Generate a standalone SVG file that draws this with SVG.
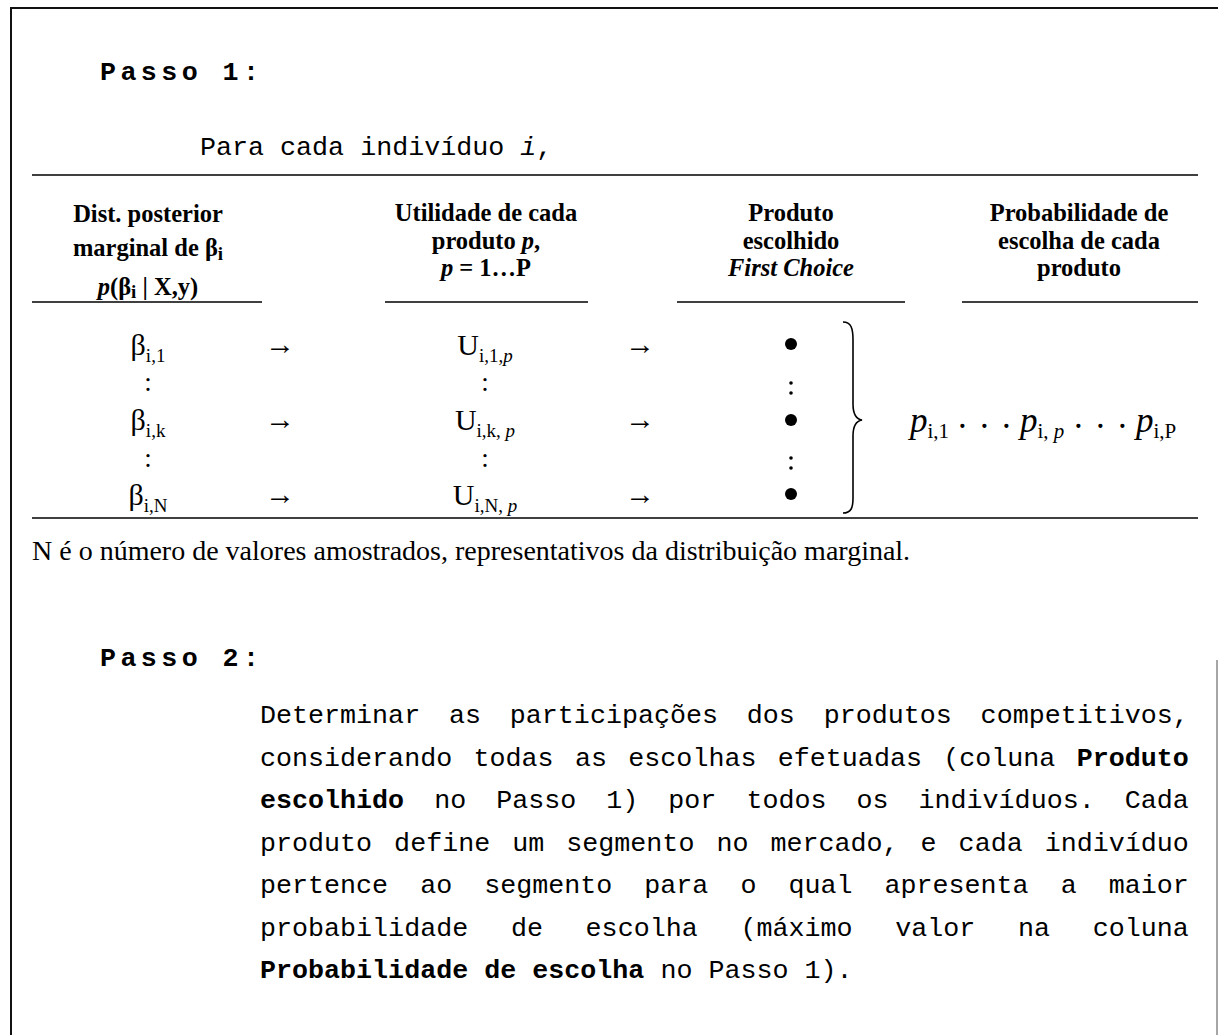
<svg xmlns="http://www.w3.org/2000/svg" width="1218" height="1035" viewBox="0 0 1218 1035">
<style>
.mono{font-family:"Liberation Mono","Courier New",monospace;font-size:26.7px;fill:#000}
.monob{font-family:"Liberation Mono","Courier New",monospace;font-size:26.7px;font-weight:bold;fill:#000}
.hd{font-family:"Liberation Serif","Times New Roman",serif;font-size:24.5px;font-weight:bold;fill:#000;text-anchor:middle}
.cell{font-family:"Liberation Serif","Times New Roman",serif;font-size:30px;fill:#000;text-anchor:middle}
.colon{font-family:"Liberation Serif","Times New Roman",serif;font-size:27px;fill:#000;text-anchor:middle}
.ser{font-family:"Liberation Serif","Times New Roman",serif;fill:#000}
.pv{font-family:"Liberation Serif","Times New Roman",serif;font-size:35px;fill:#000}
.sub{font-size:19px}
.psub{font-size:21px}
.it{font-style:italic}
.rule{stroke:#000;stroke-width:1.6;fill:none}
.frame{stroke:#111;stroke-width:2;fill:none}
</style>
<rect x="0" y="0" width="1218" height="1035" fill="#fff"/>
<g id="frame">
<path class="frame" d="M11,1035 V8 H1218"/>
<line x1="1217" y1="660" x2="1217" y2="1035" stroke="#888" stroke-width="1.5"/>
</g>
<g id="passo1">
<text class="monob" x="100" y="80" letter-spacing="4.4">Passo 1:</text>
<text class="mono" x="200" y="155">Para cada indivíduo <tspan class="it">i</tspan>,</text>
</g>
<g id="table-rules">
<line class="rule" x1="32" y1="175" x2="1198" y2="175"/>
<line class="rule" x1="32" y1="302" x2="262" y2="302"/>
<line class="rule" x1="385" y1="302" x2="588" y2="302"/>
<line class="rule" x1="677" y1="302" x2="905" y2="302"/>
<line class="rule" x1="962" y1="302" x2="1198" y2="302"/>
<line class="rule" x1="32" y1="518" x2="1198" y2="518"/>
</g>
<g id="hdr-col1">
<text class="hd" x="148" y="222">Dist. posterior</text>
<text class="hd" x="148" y="256">marginal de β<tspan class="sub" dy="4">i</tspan></text>
<text class="hd" x="148" y="295"><tspan class="it">p</tspan>(β<tspan class="sub" dy="3">i</tspan><tspan dy="-3"> | X,y)</tspan></text>
</g>
<g id="hdr-col2">
<text class="hd" x="486" y="221">Utilidade de cada</text>
<text class="hd" x="486" y="248.5">produto <tspan class="it">p</tspan>,</text>
<text class="hd" x="486" y="276"><tspan class="it">p</tspan> = 1…P</text>
</g>
<g id="hdr-col3">
<text class="hd" x="791" y="221">Produto</text>
<text class="hd" x="791" y="248.5">escolhido</text>
<text class="hd it" x="791" y="276">First Choice</text>
</g>
<g id="hdr-col4">
<text class="hd" x="1079" y="221">Probabilidade de</text>
<text class="hd" x="1079" y="248.5">escolha de cada</text>
<text class="hd" x="1079" y="276">produto</text>
</g>
<g id="col-beta">
<text class="cell" x="148" y="355">β<tspan class="sub" dy="7">i,1</tspan></text>
<text class="colon" x="148" y="391">:</text>
<text class="cell" x="148" y="430">β<tspan class="sub" dy="7">i,k</tspan></text>
<text class="colon" x="148" y="467">:</text>
<text class="cell" x="148" y="505">β<tspan class="sub" dy="7">i,N</tspan></text>
</g>
<g id="col-util">
<text class="cell" x="485" y="355">U<tspan class="sub" dy="7">i,1,<tspan class="it">p</tspan></tspan></text>
<text class="colon" x="485" y="391">:</text>
<text class="cell" x="485" y="430">U<tspan class="sub" dy="7">i,k, <tspan class="it">p</tspan></tspan></text>
<text class="colon" x="485" y="467">:</text>
<text class="cell" x="485" y="505">U<tspan class="sub" dy="7">i,N, <tspan class="it">p</tspan></tspan></text>
</g>
<g id="col-choice">
<circle cx="791" cy="344" r="6"/>
<circle cx="791" cy="383" r="1.8"/>
<circle cx="791" cy="393" r="1.8"/>
<circle cx="791" cy="420" r="6"/>
<circle cx="791" cy="458" r="1.8"/>
<circle cx="791" cy="468" r="1.8"/>
<circle cx="791" cy="494" r="6"/>
</g>
<g id="brace">
<path class="rule" stroke-width="2" d="M843,322 C851,322 853,328 853,340 L853,404 C853,414 856,419 862,420 C856,421 853,426 853,436 L853,498 C853,508 851,513 843,513"/>
</g>
<g id="col-prob">
<text class="pv" x="910" y="432"><tspan class="it">p</tspan><tspan class="psub" dy="6">i,1</tspan></text>
<text class="pv" x="958 980 1002" y="428">...</text>
<text class="pv" x="1020" y="432"><tspan class="it">p</tspan><tspan class="psub" dy="6">i, <tspan class="it">p</tspan></tspan></text>
<text class="pv" x="1074 1096 1118" y="428">...</text>
<text class="pv" x="1136" y="432"><tspan class="it">p</tspan><tspan class="psub" dy="6">i,P</tspan></text>
</g>
<g id="connectors">
<text class="cell" x="280" y="354">→</text>
<text class="cell" x="280" y="429">→</text>
<text class="cell" x="280" y="504">→</text>
<text class="cell" x="640" y="354">→</text>
<text class="cell" x="640" y="429">→</text>
<text class="cell" x="640" y="504">→</text>
</g>
<g id="note">
<text class="ser" x="32" y="560" font-size="28">N é o número de valores amostrados, representativos da distribuição marginal.</text>
</g>
<g id="passo2">
<text class="monob" x="100" y="666" letter-spacing="4.4">Passo 2:</text>
<text class="mono" x="260" y="723" word-spacing="12.8">Determinar as participações dos produtos competitivos,</text>
<text class="mono" x="260" y="766" word-spacing="5.33">considerando todas as escolhas efetuadas (coluna <tspan class="monob">Produto</tspan></text>
<text class="mono" x="260" y="808" word-spacing="14"><tspan class="monob">escolhido</tspan> no Passo 1) por todos os indivíduos. Cada</text>
<text class="mono" x="260" y="851" word-spacing="6">produto define um segmento no mercado, e cada indivíduo</text>
<text class="mono" x="260" y="893" word-spacing="16">pertence ao segmento para o qual apresenta a maior</text>
<text class="mono" x="260" y="936" word-spacing="26.67">probabilidade de escolha (máximo valor na coluna</text>
<text class="mono" x="260" y="978"><tspan class="monob">Probabilidade de escolha</tspan> no Passo 1).</text>
</g>
</svg>
